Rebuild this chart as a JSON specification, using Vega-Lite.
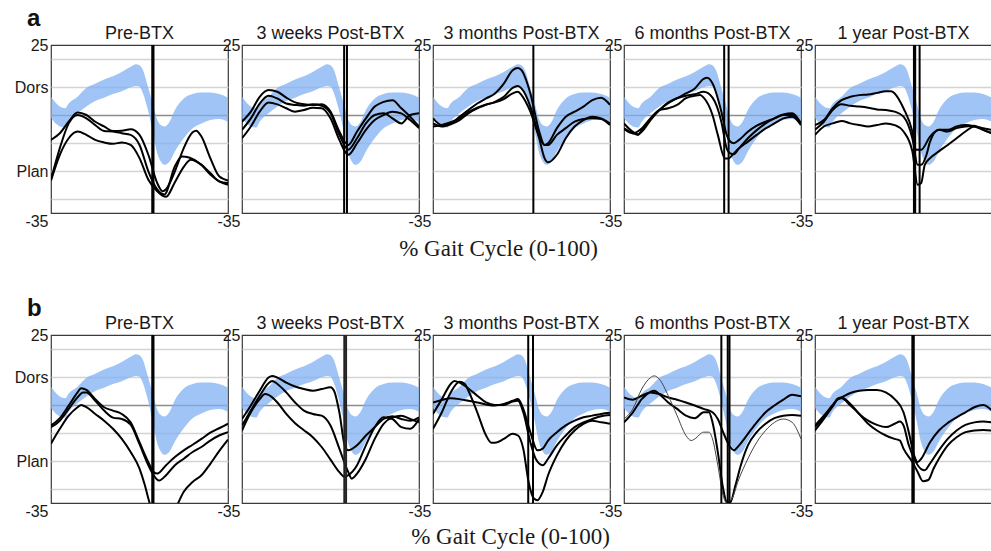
{
"$schema": "https://vega.github.io/schema/vega-lite/v6.json",
"background": "white",
"padding": {"left": 13, "top": 7, "right": 0, "bottom": 0},
"datasets": {
"norm": [
{"x":0,"lo":-1.2,"hi":6.5},{"x":5,"lo":-4.1,"hi":3},{"x":8,"lo":-4.5,"hi":2.4},{"x":10,"lo":-2.4,"hi":4.1},{"x":15,"lo":0.6,"hi":6.5},{"x":20,"lo":3,"hi":9.7},{"x":25,"lo":5,"hi":11.2},{"x":30,"lo":6.2,"hi":12.7},{"x":35,"lo":7.5,"hi":13.8},{"x":40,"lo":8.5,"hi":15.4},{"x":45,"lo":9.9,"hi":17.2},{"x":48,"lo":10.4,"hi":18.1},{"x":50,"lo":10.1,"hi":17.8},{"x":52,"lo":7.7,"hi":16},{"x":54.5,"lo":2.4,"hi":10.7},{"x":57.5,"lo":-5.9,"hi":4.1},{"x":60,"lo":-13.6,"hi":-1.6},{"x":62,"lo":-16.6,"hi":-3.6},{"x":64,"lo":-17.8,"hi":-4.1},{"x":67,"lo":-16.6,"hi":-2.4},{"x":70,"lo":-13,"hi":1.8},{"x":75,"lo":-8.3,"hi":5.9},{"x":80,"lo":-4.7,"hi":7.5},{"x":85,"lo":-3,"hi":8},{"x":90,"lo":-1.8,"hi":8},{"x":95,"lo":-1.4,"hi":7.5},{"x":100,"lo":-2.4,"hi":6.2}
],
"toe": [
{"p":"a1","x":57.2},{"p":"a1","x":57.9},
{"p":"a2","x":57.7},{"p":"a2","x":59.3},
{"p":"a3","x":56.7},
{"p":"a4","x":56.6},{"p":"a4","x":59.1},
{"p":"a5","x":55.9},{"p":"a5","x":56.6},{"p":"a5","x":59.1},
{"p":"b1","x":57.2},{"p":"b1","x":57.9},
{"p":"b2","x":57.8},{"p":"b2","x":58.8},
{"p":"b3","x":53.8},{"p":"b3","x":56.5},
{"p":"b4","x":55},{"p":"b4","x":58.6},{"p":"b4","x":59.6},
{"p":"b5","x":55},{"p":"b5","x":55.8}
],
"trials": [
{"p":"a1","t":1,"x":0,"y":-8.9},{"p":"a1","t":1,"x":5,"y":-6.5},{"p":"a1","t":1,"x":10,"y":-2.4},{"p":"a1","t":1,"x":15,"y":0.9},{"p":"a1","t":1,"x":20,"y":0},{"p":"a1","t":1,"x":25,"y":-2.4},{"p":"a1","t":1,"x":30,"y":-4.1},{"p":"a1","t":1,"x":35,"y":-5.7},{"p":"a1","t":1,"x":40,"y":-5.6},{"p":"a1","t":1,"x":45,"y":-5.1},{"p":"a1","t":1,"x":50,"y":-7.1},{"p":"a1","t":1,"x":55,"y":-14.2},{"p":"a1","t":1,"x":60,"y":-24.3},{"p":"a1","t":1,"x":63,"y":-27.2},{"p":"a1","t":1,"x":65,"y":-26.5},{"p":"a1","t":1,"x":70,"y":-20.1},{"p":"a1","t":1,"x":75,"y":-11.8},{"p":"a1","t":1,"x":80,"y":-6.2},{"p":"a1","t":1,"x":82,"y":-5.6},{"p":"a1","t":1,"x":85,"y":-7.7},{"p":"a1","t":1,"x":90,"y":-15.4},{"p":"a1","t":1,"x":95,"y":-21.9},{"p":"a1","t":1,"x":100,"y":-23.4},
{"p":"a1","t":2,"x":0,"y":-23},{"p":"a1","t":2,"x":5,"y":-11.8},{"p":"a1","t":2,"x":10,"y":-3},{"p":"a1","t":2,"x":15,"y":0},{"p":"a1","t":2,"x":20,"y":-1.2},{"p":"a1","t":2,"x":25,"y":-3.6},{"p":"a1","t":2,"x":30,"y":-5.7},{"p":"a1","t":2,"x":35,"y":-5.9},{"p":"a1","t":2,"x":40,"y":-6.5},{"p":"a1","t":2,"x":45,"y":-7.1},{"p":"a1","t":2,"x":50,"y":-10.7},{"p":"a1","t":2,"x":55,"y":-20.1},{"p":"a1","t":2,"x":60,"y":-26.6},{"p":"a1","t":2,"x":64,"y":-28.4},{"p":"a1","t":2,"x":70,"y":-18.3},{"p":"a1","t":2,"x":74,"y":-14.8},{"p":"a1","t":2,"x":78,"y":-15.2},{"p":"a1","t":2,"x":85,"y":-17.8},{"p":"a1","t":2,"x":90,"y":-21.3},{"p":"a1","t":2,"x":95,"y":-23.7},{"p":"a1","t":2,"x":100,"y":-24.9},
{"p":"a1","t":3,"x":0,"y":-23.4},{"p":"a1","t":3,"x":5,"y":-14.2},{"p":"a1","t":3,"x":10,"y":-8.3},{"p":"a1","t":3,"x":15,"y":-5.9},{"p":"a1","t":3,"x":20,"y":-7.1},{"p":"a1","t":3,"x":25,"y":-8.9},{"p":"a1","t":3,"x":30,"y":-9.8},{"p":"a1","t":3,"x":35,"y":-10.3},{"p":"a1","t":3,"x":40,"y":-9.8},{"p":"a1","t":3,"x":45,"y":-10.7},{"p":"a1","t":3,"x":50,"y":-15.4},{"p":"a1","t":3,"x":55,"y":-23.1},{"p":"a1","t":3,"x":60,"y":-27.2},{"p":"a1","t":3,"x":65,"y":-29.2},{"p":"a1","t":3,"x":70,"y":-24},{"p":"a1","t":3,"x":75,"y":-18.5},{"p":"a1","t":3,"x":79,"y":-16},{"p":"a1","t":3,"x":85,"y":-17.8},{"p":"a1","t":3,"x":90,"y":-20.7},{"p":"a1","t":3,"x":95,"y":-23.7},{"p":"a1","t":3,"x":100,"y":-24.3},

{"p":"a2","t":1,"x":0,"y":-2.4},{"p":"a2","t":1,"x":5,"y":1.2},{"p":"a2","t":1,"x":10,"y":6.5},{"p":"a2","t":1,"x":15,"y":8.9},{"p":"a2","t":1,"x":20,"y":8.3},{"p":"a2","t":1,"x":25,"y":6.2},{"p":"a2","t":1,"x":30,"y":4.5},{"p":"a2","t":1,"x":35,"y":3.8},{"p":"a2","t":1,"x":40,"y":3.6},{"p":"a2","t":1,"x":45,"y":3.8},{"p":"a2","t":1,"x":50,"y":1.2},{"p":"a2","t":1,"x":55,"y":-5.9},{"p":"a2","t":1,"x":60,"y":-10.7},{"p":"a2","t":1,"x":65,"y":-5.9},{"p":"a2","t":1,"x":70,"y":-1.2},{"p":"a2","t":1,"x":75,"y":3},{"p":"a2","t":1,"x":80,"y":4.7},{"p":"a2","t":1,"x":85,"y":5.3},{"p":"a2","t":1,"x":90,"y":2.4},{"p":"a2","t":1,"x":95,"y":-0.6},{"p":"a2","t":1,"x":100,"y":-4.1},
{"p":"a2","t":2,"x":0,"y":-5.3},{"p":"a2","t":2,"x":5,"y":-1.2},{"p":"a2","t":2,"x":10,"y":4.1},{"p":"a2","t":2,"x":15,"y":6.9},{"p":"a2","t":2,"x":20,"y":5.9},{"p":"a2","t":2,"x":25,"y":4.1},{"p":"a2","t":2,"x":30,"y":3.6},{"p":"a2","t":2,"x":35,"y":3.3},{"p":"a2","t":2,"x":40,"y":3.8},{"p":"a2","t":2,"x":45,"y":3.3},{"p":"a2","t":2,"x":50,"y":0.6},{"p":"a2","t":2,"x":55,"y":-7.1},{"p":"a2","t":2,"x":60,"y":-12.4},{"p":"a2","t":2,"x":65,"y":-8.3},{"p":"a2","t":2,"x":70,"y":-3},{"p":"a2","t":2,"x":75,"y":0},{"p":"a2","t":2,"x":80,"y":0.6},{"p":"a2","t":2,"x":85,"y":-1.2},{"p":"a2","t":2,"x":90,"y":-3},{"p":"a2","t":2,"x":95,"y":0},{"p":"a2","t":2,"x":100,"y":0.6},
{"p":"a2","t":3,"x":0,"y":-8.3},{"p":"a2","t":3,"x":5,"y":-4.1},{"p":"a2","t":3,"x":10,"y":1.2},{"p":"a2","t":3,"x":15,"y":4.5},{"p":"a2","t":3,"x":20,"y":3.8},{"p":"a2","t":3,"x":25,"y":2.4},{"p":"a2","t":3,"x":30,"y":1.2},{"p":"a2","t":3,"x":35,"y":1.8},{"p":"a2","t":3,"x":40,"y":2.6},{"p":"a2","t":3,"x":45,"y":2.4},{"p":"a2","t":3,"x":50,"y":-1.2},{"p":"a2","t":3,"x":55,"y":-8.9},{"p":"a2","t":3,"x":60,"y":-14.2},{"p":"a2","t":3,"x":65,"y":-10.1},{"p":"a2","t":3,"x":70,"y":-5.3},{"p":"a2","t":3,"x":75,"y":-1.8},{"p":"a2","t":3,"x":80,"y":0},{"p":"a2","t":3,"x":85,"y":1.2},{"p":"a2","t":3,"x":90,"y":0.6},{"p":"a2","t":3,"x":95,"y":-1.8},{"p":"a2","t":3,"x":100,"y":-4.7},

{"p":"a3","t":1,"x":0,"y":-1.2},{"p":"a3","t":1,"x":5,"y":-3.6},{"p":"a3","t":1,"x":10,"y":-3},{"p":"a3","t":1,"x":15,"y":-0.6},{"p":"a3","t":1,"x":20,"y":1.8},{"p":"a3","t":1,"x":25,"y":4.1},{"p":"a3","t":1,"x":30,"y":5.9},{"p":"a3","t":1,"x":35,"y":7.7},{"p":"a3","t":1,"x":40,"y":11.2},{"p":"a3","t":1,"x":45,"y":16},{"p":"a3","t":1,"x":48,"y":16.8},{"p":"a3","t":1,"x":50,"y":16},{"p":"a3","t":1,"x":55,"y":7.7},{"p":"a3","t":1,"x":60,"y":-5.9},{"p":"a3","t":1,"x":63,"y":-10.7},{"p":"a3","t":1,"x":65,"y":-10.1},{"p":"a3","t":1,"x":70,"y":-4.7},{"p":"a3","t":1,"x":75,"y":-0.6},{"p":"a3","t":1,"x":80,"y":1.2},{"p":"a3","t":1,"x":85,"y":3},{"p":"a3","t":1,"x":90,"y":5.3},{"p":"a3","t":1,"x":95,"y":6.2},{"p":"a3","t":1,"x":100,"y":3.6},
{"p":"a3","t":2,"x":0,"y":-3},{"p":"a3","t":2,"x":5,"y":-4.1},{"p":"a3","t":2,"x":10,"y":-3.3},{"p":"a3","t":2,"x":15,"y":-1.8},{"p":"a3","t":2,"x":20,"y":0.6},{"p":"a3","t":2,"x":25,"y":2.4},{"p":"a3","t":2,"x":30,"y":3.6},{"p":"a3","t":2,"x":35,"y":4.7},{"p":"a3","t":2,"x":40,"y":6.5},{"p":"a3","t":2,"x":45,"y":9.7},{"p":"a3","t":2,"x":48,"y":10.4},{"p":"a3","t":2,"x":50,"y":9.5},{"p":"a3","t":2,"x":55,"y":3},{"p":"a3","t":2,"x":60,"y":-8.3},{"p":"a3","t":2,"x":63,"y":-15.4},{"p":"a3","t":2,"x":65,"y":-16.9},{"p":"a3","t":2,"x":70,"y":-14.2},{"p":"a3","t":2,"x":75,"y":-8.3},{"p":"a3","t":2,"x":80,"y":-4.1},{"p":"a3","t":2,"x":85,"y":-1.8},{"p":"a3","t":2,"x":90,"y":-0.6},{"p":"a3","t":2,"x":95,"y":-1.2},{"p":"a3","t":2,"x":100,"y":-3},
{"p":"a3","t":3,"x":0,"y":-4.1},{"p":"a3","t":3,"x":5,"y":-3.6},{"p":"a3","t":3,"x":10,"y":-2.6},{"p":"a3","t":3,"x":15,"y":-1.2},{"p":"a3","t":3,"x":20,"y":1},{"p":"a3","t":3,"x":25,"y":2.6},{"p":"a3","t":3,"x":30,"y":3.8},{"p":"a3","t":3,"x":35,"y":4.5},{"p":"a3","t":3,"x":40,"y":5.7},{"p":"a3","t":3,"x":45,"y":7.7},{"p":"a3","t":3,"x":48,"y":8.3},{"p":"a3","t":3,"x":50,"y":7.1},{"p":"a3","t":3,"x":55,"y":1.2},{"p":"a3","t":3,"x":60,"y":-7.7},{"p":"a3","t":3,"x":63,"y":-10.7},{"p":"a3","t":3,"x":65,"y":-10.7},{"p":"a3","t":3,"x":70,"y":-7.1},{"p":"a3","t":3,"x":75,"y":-4.7},{"p":"a3","t":3,"x":80,"y":-2.4},{"p":"a3","t":3,"x":85,"y":-1.4},{"p":"a3","t":3,"x":90,"y":-1.2},{"p":"a3","t":3,"x":95,"y":-1.4},{"p":"a3","t":3,"x":100,"y":-3.6},

{"p":"a4","t":1,"x":0,"y":-3},{"p":"a4","t":1,"x":5,"y":-6},{"p":"a4","t":1,"x":8,"y":-6.9},{"p":"a4","t":1,"x":10,"y":-6},{"p":"a4","t":1,"x":15,"y":-1.8},{"p":"a4","t":1,"x":20,"y":1.8},{"p":"a4","t":1,"x":25,"y":4.2},{"p":"a4","t":1,"x":30,"y":6},{"p":"a4","t":1,"x":35,"y":7.7},{"p":"a4","t":1,"x":40,"y":9.5},{"p":"a4","t":1,"x":45,"y":12.9},{"p":"a4","t":1,"x":47,"y":13.3},{"p":"a4","t":1,"x":50,"y":11.3},{"p":"a4","t":1,"x":55,"y":1.2},{"p":"a4","t":1,"x":58,"y":-7.1},{"p":"a4","t":1,"x":60,"y":-9.5},{"p":"a4","t":1,"x":62,"y":-10.1},{"p":"a4","t":1,"x":65,"y":-8.9},{"p":"a4","t":1,"x":70,"y":-6},{"p":"a4","t":1,"x":75,"y":-3.8},{"p":"a4","t":1,"x":80,"y":-2.4},{"p":"a4","t":1,"x":85,"y":-1.2},{"p":"a4","t":1,"x":90,"y":0.2},{"p":"a4","t":1,"x":95,"y":0.6},{"p":"a4","t":1,"x":100,"y":-3},
{"p":"a4","t":2,"x":0,"y":-4.8},{"p":"a4","t":2,"x":5,"y":-6.5},{"p":"a4","t":2,"x":8,"y":-7.1},{"p":"a4","t":2,"x":10,"y":-5.4},{"p":"a4","t":2,"x":15,"y":-1.2},{"p":"a4","t":2,"x":20,"y":1.8},{"p":"a4","t":2,"x":25,"y":4.5},{"p":"a4","t":2,"x":30,"y":6},{"p":"a4","t":2,"x":35,"y":6.9},{"p":"a4","t":2,"x":40,"y":7.4},{"p":"a4","t":2,"x":45,"y":8.3},{"p":"a4","t":2,"x":50,"y":6.2},{"p":"a4","t":2,"x":55,"y":-2.4},{"p":"a4","t":2,"x":58,"y":-11.9},{"p":"a4","t":2,"x":60,"y":-13.7},{"p":"a4","t":2,"x":62,"y":-14},{"p":"a4","t":2,"x":65,"y":-11.9},{"p":"a4","t":2,"x":70,"y":-8.3},{"p":"a4","t":2,"x":75,"y":-5.4},{"p":"a4","t":2,"x":80,"y":-3},{"p":"a4","t":2,"x":85,"y":-1.2},{"p":"a4","t":2,"x":90,"y":0},{"p":"a4","t":2,"x":95,"y":0},{"p":"a4","t":2,"x":100,"y":-3},
{"p":"a4","t":3,"x":0,"y":-5},{"p":"a4","t":3,"x":5,"y":-6.5},{"p":"a4","t":3,"x":10,"y":-4.8},{"p":"a4","t":3,"x":15,"y":-1.2},{"p":"a4","t":3,"x":20,"y":1.8},{"p":"a4","t":3,"x":25,"y":2.4},{"p":"a4","t":3,"x":30,"y":3.6},{"p":"a4","t":3,"x":35,"y":6},{"p":"a4","t":3,"x":40,"y":6.9},{"p":"a4","t":3,"x":43,"y":7.1},{"p":"a4","t":3,"x":45,"y":6.2},{"p":"a4","t":3,"x":50,"y":0},{"p":"a4","t":3,"x":53,"y":-7.1},{"p":"a4","t":3,"x":57,"y":-15.5},{"p":"a4","t":3,"x":59,"y":-15.5},{"p":"a4","t":3,"x":62,"y":-13.7},{"p":"a4","t":3,"x":65,"y":-11.9},{"p":"a4","t":3,"x":70,"y":-9.5},{"p":"a4","t":3,"x":75,"y":-7.1},{"p":"a4","t":3,"x":80,"y":-4.8},{"p":"a4","t":3,"x":85,"y":-3},{"p":"a4","t":3,"x":90,"y":-1.2},{"p":"a4","t":3,"x":95,"y":-0.6},{"p":"a4","t":3,"x":100,"y":-3.6},

{"p":"a5","t":1,"x":0,"y":-3.6},{"p":"a5","t":1,"x":5,"y":-1.8},{"p":"a5","t":1,"x":10,"y":2.4},{"p":"a5","t":1,"x":15,"y":5.3},{"p":"a5","t":1,"x":20,"y":6.5},{"p":"a5","t":1,"x":25,"y":7.1},{"p":"a5","t":1,"x":30,"y":7.3},{"p":"a5","t":1,"x":35,"y":7.9},{"p":"a5","t":1,"x":40,"y":8.5},{"p":"a5","t":1,"x":43,"y":8.5},{"p":"a5","t":1,"x":45,"y":7.7},{"p":"a5","t":1,"x":50,"y":2.4},{"p":"a5","t":1,"x":55,"y":-5.9},{"p":"a5","t":1,"x":57,"y":-12.4},{"p":"a5","t":1,"x":60,"y":-12.4},{"p":"a5","t":1,"x":65,"y":-7.7},{"p":"a5","t":1,"x":70,"y":-5.3},{"p":"a5","t":1,"x":75,"y":-5.3},{"p":"a5","t":1,"x":80,"y":-4.1},{"p":"a5","t":1,"x":85,"y":-3.6},{"p":"a5","t":1,"x":90,"y":-4.1},{"p":"a5","t":1,"x":95,"y":-5.3},{"p":"a5","t":1,"x":100,"y":-6.5},
{"p":"a5","t":2,"x":0,"y":-5.3},{"p":"a5","t":2,"x":5,"y":-2.4},{"p":"a5","t":2,"x":10,"y":1.8},{"p":"a5","t":2,"x":15,"y":3.8},{"p":"a5","t":2,"x":20,"y":3.3},{"p":"a5","t":2,"x":25,"y":3},{"p":"a5","t":2,"x":30,"y":2.6},{"p":"a5","t":2,"x":35,"y":2},{"p":"a5","t":2,"x":40,"y":1.8},{"p":"a5","t":2,"x":45,"y":1.2},{"p":"a5","t":2,"x":50,"y":-0.6},{"p":"a5","t":2,"x":55,"y":-8.3},{"p":"a5","t":2,"x":58,"y":-17.8},{"p":"a5","t":2,"x":60,"y":-17.8},{"p":"a5","t":2,"x":63,"y":-14.2},{"p":"a5","t":2,"x":65,"y":-9.5},{"p":"a5","t":2,"x":70,"y":-5.3},{"p":"a5","t":2,"x":75,"y":-5.9},{"p":"a5","t":2,"x":80,"y":-4.7},{"p":"a5","t":2,"x":85,"y":-4.1},{"p":"a5","t":2,"x":90,"y":-3.8},{"p":"a5","t":2,"x":95,"y":-5.3},{"p":"a5","t":2,"x":100,"y":-6.5},
{"p":"a5","t":3,"x":0,"y":-7.1},{"p":"a5","t":3,"x":5,"y":-4.1},{"p":"a5","t":3,"x":10,"y":-3},{"p":"a5","t":3,"x":15,"y":-2.1},{"p":"a5","t":3,"x":20,"y":-3},{"p":"a5","t":3,"x":25,"y":-3.6},{"p":"a5","t":3,"x":30,"y":-4.1},{"p":"a5","t":3,"x":35,"y":-3.6},{"p":"a5","t":3,"x":40,"y":-3},{"p":"a5","t":3,"x":45,"y":-3.6},{"p":"a5","t":3,"x":50,"y":-5.9},{"p":"a5","t":3,"x":55,"y":-13},{"p":"a5","t":3,"x":58,"y":-24.9},{"p":"a5","t":3,"x":60,"y":-24.3},{"p":"a5","t":3,"x":62,"y":-17.8},{"p":"a5","t":3,"x":65,"y":-15.4},{"p":"a5","t":3,"x":70,"y":-13},{"p":"a5","t":3,"x":75,"y":-10.7},{"p":"a5","t":3,"x":80,"y":-8.3},{"p":"a5","t":3,"x":85,"y":-5.9},{"p":"a5","t":3,"x":90,"y":-4.1},{"p":"a5","t":3,"x":95,"y":-4.7},{"p":"a5","t":3,"x":100,"y":-5.3},

{"p":"b1","t":1,"x":0,"y":-7.3},{"p":"b1","t":1,"x":5,"y":-4.7},{"p":"b1","t":1,"x":10,"y":-0.2},{"p":"b1","t":1,"x":15,"y":4.5},{"p":"b1","t":1,"x":17,"y":6},{"p":"b1","t":1,"x":20,"y":5.4},{"p":"b1","t":1,"x":25,"y":2.1},{"p":"b1","t":1,"x":30,"y":-0.8},{"p":"b1","t":1,"x":35,"y":-2},{"p":"b1","t":1,"x":40,"y":-3.2},{"p":"b1","t":1,"x":45,"y":-6.2},{"p":"b1","t":1,"x":50,"y":-13.3},{"p":"b1","t":1,"x":55,"y":-20.4},{"p":"b1","t":1,"x":58,"y":-23.9},{"p":"b1","t":1,"x":60,"y":-24.5},{"p":"b1","t":1,"x":65,"y":-21.5},{"p":"b1","t":1,"x":70,"y":-18.6},{"p":"b1","t":1,"x":75,"y":-16.2},{"p":"b1","t":1,"x":80,"y":-14.2},{"p":"b1","t":1,"x":85,"y":-12.1},{"p":"b1","t":1,"x":90,"y":-9.9},{"p":"b1","t":1,"x":95,"y":-8.3},{"p":"b1","t":1,"x":100,"y":-6.7},
{"p":"b1","t":2,"x":0,"y":-7.9},{"p":"b1","t":2,"x":5,"y":-5.6},{"p":"b1","t":2,"x":10,"y":-1.4},{"p":"b1","t":2,"x":15,"y":2.7},{"p":"b1","t":2,"x":18,"y":4.5},{"p":"b1","t":2,"x":20,"y":4.5},{"p":"b1","t":2,"x":25,"y":1.5},{"p":"b1","t":2,"x":30,"y":-2},{"p":"b1","t":2,"x":35,"y":-4.5},{"p":"b1","t":2,"x":40,"y":-5},{"p":"b1","t":2,"x":45,"y":-7},{"p":"b1","t":2,"x":50,"y":-14},{"p":"b1","t":2,"x":55,"y":-21.5},{"p":"b1","t":2,"x":58,"y":-25.1},{"p":"b1","t":2,"x":61,"y":-27},{"p":"b1","t":2,"x":65,"y":-25.1},{"p":"b1","t":2,"x":70,"y":-21.5},{"p":"b1","t":2,"x":75,"y":-19.2},{"p":"b1","t":2,"x":80,"y":-16.8},{"p":"b1","t":2,"x":85,"y":-15},{"p":"b1","t":2,"x":90,"y":-12.7},{"p":"b1","t":2,"x":95,"y":-10.9},{"p":"b1","t":2,"x":100,"y":-9.7},
{"p":"b1","t":3,"x":0,"y":-13.8},{"p":"b1","t":3,"x":5,"y":-8.5},{"p":"b1","t":3,"x":10,"y":-3.8},{"p":"b1","t":3,"x":15,"y":-0.8},{"p":"b1","t":3,"x":17,"y":0},{"p":"b1","t":3,"x":20,"y":-0.8},{"p":"b1","t":3,"x":25,"y":-3.2},{"p":"b1","t":3,"x":30,"y":-5.6},{"p":"b1","t":3,"x":35,"y":-8.5},{"p":"b1","t":3,"x":40,"y":-12.1},{"p":"b1","t":3,"x":45,"y":-16.8},{"p":"b1","t":3,"x":50,"y":-22.7},{"p":"b1","t":3,"x":53,"y":-28.6},{"p":"b1","t":3,"x":55,"y":-33.4},{"p":"b1","t":3,"x":57,"y":-38},{"p":"b1","t":3,"x":60,"y":-42},{"p":"b1","t":3,"x":65,"y":-42},{"p":"b1","t":3,"x":70,"y":-37.5},{"p":"b1","t":3,"x":72,"y":-34.8},{"p":"b1","t":3,"x":75,"y":-31},{"p":"b1","t":3,"x":80,"y":-27.5},{"p":"b1","t":3,"x":85,"y":-25.1},{"p":"b1","t":3,"x":90,"y":-21},{"p":"b1","t":3,"x":95,"y":-16.5},{"p":"b1","t":3,"x":100,"y":-12.4},

{"p":"b2","t":1,"x":0,"y":-5},{"p":"b2","t":1,"x":5,"y":-0.2},{"p":"b2","t":1,"x":10,"y":5.1},{"p":"b2","t":1,"x":15,"y":9.8},{"p":"b2","t":1,"x":17,"y":10.4},{"p":"b2","t":1,"x":20,"y":9.8},{"p":"b2","t":1,"x":25,"y":8},{"p":"b2","t":1,"x":30,"y":6.6},{"p":"b2","t":1,"x":35,"y":5.7},{"p":"b2","t":1,"x":40,"y":5.1},{"p":"b2","t":1,"x":45,"y":5.7},{"p":"b2","t":1,"x":50,"y":6.3},{"p":"b2","t":1,"x":52,"y":5.1},{"p":"b2","t":1,"x":55,"y":-2.6},{"p":"b2","t":1,"x":58,"y":-14.4},{"p":"b2","t":1,"x":60,"y":-16.2},{"p":"b2","t":1,"x":65,"y":-14.4},{"p":"b2","t":1,"x":70,"y":-10.9},{"p":"b2","t":1,"x":75,"y":-7.9},{"p":"b2","t":1,"x":80,"y":-5},{"p":"b2","t":1,"x":85,"y":-4},{"p":"b2","t":1,"x":90,"y":-5},{"p":"b2","t":1,"x":95,"y":-5.6},{"p":"b2","t":1,"x":100,"y":-4.4},
{"p":"b2","t":2,"x":0,"y":-7.3},{"p":"b2","t":2,"x":5,"y":-2},{"p":"b2","t":2,"x":10,"y":3.3},{"p":"b2","t":2,"x":15,"y":7.8},{"p":"b2","t":2,"x":17,"y":8.6},{"p":"b2","t":2,"x":20,"y":7.5},{"p":"b2","t":2,"x":25,"y":4.5},{"p":"b2","t":2,"x":30,"y":0.9},{"p":"b2","t":2,"x":35,"y":-2},{"p":"b2","t":2,"x":40,"y":-3.2},{"p":"b2","t":2,"x":45,"y":-3.8},{"p":"b2","t":2,"x":50,"y":-7.3},{"p":"b2","t":2,"x":55,"y":-15.6},{"p":"b2","t":2,"x":60,"y":-23.9},{"p":"b2","t":2,"x":62,"y":-26.3},{"p":"b2","t":2,"x":65,"y":-24.5},{"p":"b2","t":2,"x":70,"y":-19.2},{"p":"b2","t":2,"x":75,"y":-12.1},{"p":"b2","t":2,"x":80,"y":-6.7},{"p":"b2","t":2,"x":85,"y":-4.4},{"p":"b2","t":2,"x":90,"y":-3.8},{"p":"b2","t":2,"x":95,"y":-5},{"p":"b2","t":2,"x":100,"y":-6.2},
{"p":"b2","t":3,"x":0,"y":-9.1},{"p":"b2","t":3,"x":5,"y":-2.6},{"p":"b2","t":3,"x":10,"y":2.1},{"p":"b2","t":3,"x":13,"y":3.9},{"p":"b2","t":3,"x":15,"y":3.6},{"p":"b2","t":3,"x":20,"y":0.9},{"p":"b2","t":3,"x":25,"y":-3.2},{"p":"b2","t":3,"x":30,"y":-6.5},{"p":"b2","t":3,"x":35,"y":-9},{"p":"b2","t":3,"x":40,"y":-11.5},{"p":"b2","t":3,"x":45,"y":-15},{"p":"b2","t":3,"x":50,"y":-19.5},{"p":"b2","t":3,"x":55,"y":-24},{"p":"b2","t":3,"x":58,"y":-25.7},{"p":"b2","t":3,"x":60,"y":-25.1},{"p":"b2","t":3,"x":65,"y":-21.5},{"p":"b2","t":3,"x":70,"y":-14.4},{"p":"b2","t":3,"x":75,"y":-7.9},{"p":"b2","t":3,"x":80,"y":-4.4},{"p":"b2","t":3,"x":85,"y":-5},{"p":"b2","t":3,"x":90,"y":-7.9},{"p":"b2","t":3,"x":95,"y":-8.5},{"p":"b2","t":3,"x":100,"y":-5},

{"p":"b3","t":1,"x":0,"y":0.9},{"p":"b3","t":1,"x":5,"y":1.8},{"p":"b3","t":1,"x":10,"y":2.4},{"p":"b3","t":1,"x":15,"y":2.1},{"p":"b3","t":1,"x":20,"y":1.5},{"p":"b3","t":1,"x":25,"y":0.9},{"p":"b3","t":1,"x":30,"y":0.2},{"p":"b3","t":1,"x":35,"y":-0.2},{"p":"b3","t":1,"x":40,"y":0.4},{"p":"b3","t":1,"x":45,"y":1.5},{"p":"b3","t":1,"x":48,"y":2.1},{"p":"b3","t":1,"x":51,"y":-1.4},{"p":"b3","t":1,"x":55,"y":-9.7},{"p":"b3","t":1,"x":59,"y":-16.2},{"p":"b3","t":1,"x":62,"y":-15.6},{"p":"b3","t":1,"x":65,"y":-12.7},{"p":"b3","t":1,"x":70,"y":-9.7},{"p":"b3","t":1,"x":75,"y":-7.3},{"p":"b3","t":1,"x":80,"y":-5.6},{"p":"b3","t":1,"x":85,"y":-4.4},{"p":"b3","t":1,"x":90,"y":-3.8},{"p":"b3","t":1,"x":95,"y":-3.2},{"p":"b3","t":1,"x":100,"y":-2.8},
{"p":"b3","t":2,"x":0,"y":-3.2},{"p":"b3","t":2,"x":5,"y":2.1},{"p":"b3","t":2,"x":10,"y":7.5},{"p":"b3","t":2,"x":12,"y":8.6},{"p":"b3","t":2,"x":15,"y":8},{"p":"b3","t":2,"x":20,"y":5.9},{"p":"b3","t":2,"x":25,"y":3.3},{"p":"b3","t":2,"x":30,"y":0.9},{"p":"b3","t":2,"x":35,"y":0},{"p":"b3","t":2,"x":40,"y":0},{"p":"b3","t":2,"x":45,"y":1.2},{"p":"b3","t":2,"x":48,"y":1.5},{"p":"b3","t":2,"x":51,"y":-2.6},{"p":"b3","t":2,"x":55,"y":-13.3},{"p":"b3","t":2,"x":58,"y":-19.2},{"p":"b3","t":2,"x":62,"y":-21.5},{"p":"b3","t":2,"x":65,"y":-19.2},{"p":"b3","t":2,"x":70,"y":-14.4},{"p":"b3","t":2,"x":75,"y":-10.9},{"p":"b3","t":2,"x":80,"y":-7.9},{"p":"b3","t":2,"x":85,"y":-6.2},{"p":"b3","t":2,"x":90,"y":-5},{"p":"b3","t":2,"x":95,"y":-4},{"p":"b3","t":2,"x":100,"y":-3.6},
{"p":"b3","t":3,"x":0,"y":-8.5},{"p":"b3","t":3,"x":5,"y":-2.6},{"p":"b3","t":3,"x":10,"y":4.5},{"p":"b3","t":3,"x":15,"y":8.3},{"p":"b3","t":3,"x":18,"y":7.5},{"p":"b3","t":3,"x":20,"y":5.1},{"p":"b3","t":3,"x":25,"y":-2.6},{"p":"b3","t":3,"x":30,"y":-10.9},{"p":"b3","t":3,"x":33,"y":-13.5},{"p":"b3","t":3,"x":35,"y":-13.5},{"p":"b3","t":3,"x":40,"y":-12.1},{"p":"b3","t":3,"x":45,"y":-10.3},{"p":"b3","t":3,"x":48,"y":-10.9},{"p":"b3","t":3,"x":51,"y":-15.6},{"p":"b3","t":3,"x":54,"y":-27.5},{"p":"b3","t":3,"x":57,"y":-33.4},{"p":"b3","t":3,"x":59,"y":-34},{"p":"b3","t":3,"x":62,"y":-31},{"p":"b3","t":3,"x":65,"y":-25.1},{"p":"b3","t":3,"x":70,"y":-18},{"p":"b3","t":3,"x":75,"y":-12.7},{"p":"b3","t":3,"x":80,"y":-9.1},{"p":"b3","t":3,"x":85,"y":-6.7},{"p":"b3","t":3,"x":90,"y":-5.6},{"p":"b3","t":3,"x":95,"y":-6.2},{"p":"b3","t":3,"x":100,"y":-6.7},

{"p":"b4","t":1,"x":0,"y":2.7},{"p":"b4","t":1,"x":5,"y":1.9},{"p":"b4","t":1,"x":10,"y":3.3},{"p":"b4","t":1,"x":15,"y":4.5},{"p":"b4","t":1,"x":20,"y":3.9},{"p":"b4","t":1,"x":25,"y":2.7},{"p":"b4","t":1,"x":30,"y":1.9},{"p":"b4","t":1,"x":35,"y":0.9},{"p":"b4","t":1,"x":40,"y":-0.2},{"p":"b4","t":1,"x":45,"y":-1.4},{"p":"b4","t":1,"x":50,"y":-2.6},{"p":"b4","t":1,"x":53,"y":-5},{"p":"b4","t":1,"x":56,"y":-9.7},{"p":"b4","t":1,"x":60,"y":-15},{"p":"b4","t":1,"x":62,"y":-16.2},{"p":"b4","t":1,"x":65,"y":-14.4},{"p":"b4","t":1,"x":70,"y":-10.3},{"p":"b4","t":1,"x":75,"y":-6.2},{"p":"b4","t":1,"x":80,"y":-2.6},{"p":"b4","t":1,"x":85,"y":-0.2},{"p":"b4","t":1,"x":90,"y":1.9},{"p":"b4","t":1,"x":95,"y":3.7},{"p":"b4","t":1,"x":100,"y":3.1},
{"p":"b4","t":2,"x":0,"y":-6.2},{"p":"b4","t":2,"x":5,"y":-2.6},{"p":"b4","t":2,"x":10,"y":2.1},{"p":"b4","t":2,"x":15,"y":4.7},{"p":"b4","t":2,"x":17,"y":5.1},{"p":"b4","t":2,"x":20,"y":3.9},{"p":"b4","t":2,"x":25,"y":0.9},{"p":"b4","t":2,"x":30,"y":-1.4},{"p":"b4","t":2,"x":35,"y":-3.8},{"p":"b4","t":2,"x":40,"y":-4.7},{"p":"b4","t":2,"x":45,"y":-2.6},{"p":"b4","t":2,"x":48,"y":-2.6},{"p":"b4","t":2,"x":50,"y":-6.2},{"p":"b4","t":2,"x":53,"y":-16.8},{"p":"b4","t":2,"x":56,"y":-29.8},{"p":"b4","t":2,"x":58,"y":-34.6},{"p":"b4","t":2,"x":60,"y":-34.8},{"p":"b4","t":2,"x":63,"y":-28.6},{"p":"b4","t":2,"x":66,"y":-21.5},{"p":"b4","t":2,"x":70,"y":-14.4},{"p":"b4","t":2,"x":75,"y":-9.7},{"p":"b4","t":2,"x":80,"y":-6.7},{"p":"b4","t":2,"x":85,"y":-4.7},{"p":"b4","t":2,"x":90,"y":-3.8},{"p":"b4","t":2,"x":95,"y":-3.6},{"p":"b4","t":2,"x":100,"y":-3.8},
{"p":"b4","t":3,"x":0,"y":-5},{"p":"b4","t":3,"x":5,"y":-1.4},{"p":"b4","t":3,"x":10,"y":5.7},{"p":"b4","t":3,"x":15,"y":9.8},{"p":"b4","t":3,"x":17,"y":10.4},{"p":"b4","t":3,"x":20,"y":9.2},{"p":"b4","t":3,"x":25,"y":3.3},{"p":"b4","t":3,"x":30,"y":-3.8},{"p":"b4","t":3,"x":35,"y":-10.9},{"p":"b4","t":3,"x":38,"y":-12.7},{"p":"b4","t":3,"x":40,"y":-12.1},{"p":"b4","t":3,"x":45,"y":-9.7},{"p":"b4","t":3,"x":48,"y":-9.7},{"p":"b4","t":3,"x":50,"y":-12.1},{"p":"b4","t":3,"x":53,"y":-21.5},{"p":"b4","t":3,"x":56,"y":-32.2},{"p":"b4","t":3,"x":58,"y":-35},{"p":"b4","t":3,"x":61,"y":-33.4},{"p":"b4","t":3,"x":65,"y":-26.3},{"p":"b4","t":3,"x":70,"y":-19.2},{"p":"b4","t":3,"x":75,"y":-13.3},{"p":"b4","t":3,"x":80,"y":-9.1},{"p":"b4","t":3,"x":85,"y":-6.2},{"p":"b4","t":3,"x":90,"y":-5},{"p":"b4","t":3,"x":95,"y":-6.2},{"p":"b4","t":3,"x":100,"y":-12.1},

{"p":"b5","t":1,"x":0,"y":-7.3},{"p":"b5","t":1,"x":5,"y":-3.8},{"p":"b5","t":1,"x":10,"y":0},{"p":"b5","t":1,"x":13,"y":2.1},{"p":"b5","t":1,"x":15,"y":2.7},{"p":"b5","t":1,"x":20,"y":4.3},{"p":"b5","t":1,"x":25,"y":5.1},{"p":"b5","t":1,"x":30,"y":5.4},{"p":"b5","t":1,"x":35,"y":5.4},{"p":"b5","t":1,"x":40,"y":4.5},{"p":"b5","t":1,"x":45,"y":2.1},{"p":"b5","t":1,"x":50,"y":-2.6},{"p":"b5","t":1,"x":53,"y":-9.7},{"p":"b5","t":1,"x":56,"y":-18},{"p":"b5","t":1,"x":58,"y":-20.4},{"p":"b5","t":1,"x":60,"y":-19.2},{"p":"b5","t":1,"x":65,"y":-13.3},{"p":"b5","t":1,"x":70,"y":-9.1},{"p":"b5","t":1,"x":75,"y":-6.4},{"p":"b5","t":1,"x":80,"y":-4.4},{"p":"b5","t":1,"x":85,"y":-2.6},{"p":"b5","t":1,"x":90,"y":-0.8},{"p":"b5","t":1,"x":95,"y":0},{"p":"b5","t":1,"x":100,"y":-2},
{"p":"b5","t":2,"x":0,"y":-7.9},{"p":"b5","t":2,"x":5,"y":-4.4},{"p":"b5","t":2,"x":10,"y":-0.2},{"p":"b5","t":2,"x":13,"y":2.4},{"p":"b5","t":2,"x":15,"y":2.7},{"p":"b5","t":2,"x":20,"y":0.4},{"p":"b5","t":2,"x":25,"y":-3.2},{"p":"b5","t":2,"x":30,"y":-5.6},{"p":"b5","t":2,"x":35,"y":-7.1},{"p":"b5","t":2,"x":40,"y":-7.9},{"p":"b5","t":2,"x":45,"y":-6.7},{"p":"b5","t":2,"x":48,"y":-5.9},{"p":"b5","t":2,"x":50,"y":-7.3},{"p":"b5","t":2,"x":53,"y":-14.4},{"p":"b5","t":2,"x":57,"y":-20.4},{"p":"b5","t":2,"x":60,"y":-22.9},{"p":"b5","t":2,"x":62,"y":-23.3},{"p":"b5","t":2,"x":65,"y":-20.9},{"p":"b5","t":2,"x":70,"y":-16.2},{"p":"b5","t":2,"x":75,"y":-12.1},{"p":"b5","t":2,"x":80,"y":-9.1},{"p":"b5","t":2,"x":85,"y":-7.1},{"p":"b5","t":2,"x":90,"y":-6.2},{"p":"b5","t":2,"x":95,"y":-5.9},{"p":"b5","t":2,"x":100,"y":-6.2},
{"p":"b5","t":3,"x":0,"y":-9.1},{"p":"b5","t":3,"x":5,"y":-5},{"p":"b5","t":3,"x":10,"y":-0.5},{"p":"b5","t":3,"x":13,"y":2.1},{"p":"b5","t":3,"x":15,"y":2.4},{"p":"b5","t":3,"x":20,"y":-0.2},{"p":"b5","t":3,"x":25,"y":-3.2},{"p":"b5","t":3,"x":30,"y":-6.7},{"p":"b5","t":3,"x":35,"y":-9.1},{"p":"b5","t":3,"x":40,"y":-10.9},{"p":"b5","t":3,"x":45,"y":-12.1},{"p":"b5","t":3,"x":48,"y":-12.7},{"p":"b5","t":3,"x":50,"y":-15.6},{"p":"b5","t":3,"x":55,"y":-20.4},{"p":"b5","t":3,"x":58,"y":-23.9},{"p":"b5","t":3,"x":61,"y":-27.2},{"p":"b5","t":3,"x":64,"y":-26.8},{"p":"b5","t":3,"x":67,"y":-22.7},{"p":"b5","t":3,"x":70,"y":-19.2},{"p":"b5","t":3,"x":75,"y":-14.4},{"p":"b5","t":3,"x":80,"y":-11.5},{"p":"b5","t":3,"x":85,"y":-9.7},{"p":"b5","t":3,"x":90,"y":-9.1},{"p":"b5","t":3,"x":95,"y":-8.9},{"p":"b5","t":3,"x":100,"y":-9.1}
]
},
"spacing": 290,
"bounds": "flush",
"vconcat": [
{"title": {"text": "a", "anchor": "start", "frame": "group", "dx": -24, "fontSize": 24, "fontWeight": "bold", "color": "#111", "offset": -7},
"spacing": 14, "bounds": "flush",
"hconcat": [
{"width":177,"height":168,"title":"Pre-BTX","encoding":{"x":{"field":"x","type":"quantitative","scale":{"domain":[0,100],"nice":false,"zero":false},"axis":null}},"layer":[
{"data":{"name":"norm"},"mark":{"type":"area","color":"#7fb0f2","opacity":0.75,"interpolate":"monotone"},"encoding":{"y":{"field":"hi","type":"quantitative","scale":{"domain":[-35,25],"nice":false,"zero":false},"title":null,"axis":{"values":[-35,-30,-20,-10,0,10,20,25],"tickCount":20,"labelOverlap":false,"labelExpr":"datum.value==25?'25':datum.value==-35?'-35':datum.value==10?'Dors':datum.value==-20?'Plan':''","labelBaseline":{"condition":{"test":"datum.value==-35","value":"top"},"value":"middle"},"labelPadding":3,"gridColor":{"condition":{"test":"datum.value==0","value":"#8c8c8c"},"value":"#d4d4d4"},"gridOpacity":{"condition":{"test":"datum.value==25||datum.value==-35","value":0},"value":1},"gridWidth":1.5}},"y2":{"field":"lo"}}},
{"data":{"name":"trials"},"transform":[{"filter":"datum.p==='a1'"}],"mark":{"type":"line","color":"#000","strokeWidth":2,"interpolate":"monotone","clip":true},"encoding":{"y":{"field":"y","type":"quantitative","title":null,"scale":{"domain":[-35,25],"nice":false,"zero":false}},"detail":{"field":"t","type":"nominal"}}},
{"data":{"name":"toe"},"transform":[{"filter":"datum.p==='a1'"}],"mark":{"type":"rule","color":"#000","strokeWidth":2},"encoding":{}}
]},
{"width":177,"height":168,"title":"3 weeks Post-BTX","encoding":{"x":{"field":"x","type":"quantitative","scale":{"domain":[0,100],"nice":false,"zero":false},"axis":null}},"layer":[
{"data":{"name":"norm"},"mark":{"type":"area","color":"#7fb0f2","opacity":0.75,"interpolate":"monotone"},"encoding":{"y":{"field":"hi","type":"quantitative","scale":{"domain":[-35,25],"nice":false,"zero":false},"title":null,"axis":{"values":[-35,-30,-20,-10,0,10,20,25],"tickCount":20,"labelOverlap":false,"labelExpr":"datum.value==25?'25':datum.value==-35?'-35':''","labelBaseline":{"condition":{"test":"datum.value==-35","value":"top"},"value":"middle"},"labelPadding":2,"gridColor":{"condition":{"test":"datum.value==0","value":"#8c8c8c"},"value":"#d4d4d4"},"gridOpacity":{"condition":{"test":"datum.value==25||datum.value==-35","value":0},"value":1},"gridWidth":1.5}},"y2":{"field":"lo"}}},
{"data":{"name":"trials"},"transform":[{"filter":"datum.p==='a2'"}],"mark":{"type":"line","color":"#000","strokeWidth":2,"interpolate":"monotone","clip":true},"encoding":{"y":{"field":"y","type":"quantitative","title":null,"scale":{"domain":[-35,25],"nice":false,"zero":false}},"detail":{"field":"t","type":"nominal"}}},
{"data":{"name":"toe"},"transform":[{"filter":"datum.p==='a2'"}],"mark":{"type":"rule","color":"#000","strokeWidth":2},"encoding":{}}
]},
{"width":177,"height":168,"title":"3 months Post-BTX","encoding":{"x":{"field":"x","type":"quantitative","scale":{"domain":[0,100],"nice":false,"zero":false},"axis":{"title":"% Gait Cycle (0-100)","labels":false,"ticks":false,"domain":false,"grid":false,"titleFont":"Liberation Serif","titleFontSize":23,"titleFontWeight":"normal","titleColor":"#1a1a1a","titleX":65,"titleY":42,"titleAlign":"center","titleBaseline":"alphabetic"}}},"layer":[
{"data":{"name":"norm"},"mark":{"type":"area","color":"#7fb0f2","opacity":0.75,"interpolate":"monotone"},"encoding":{"y":{"field":"hi","type":"quantitative","scale":{"domain":[-35,25],"nice":false,"zero":false},"title":null,"axis":{"values":[-35,-30,-20,-10,0,10,20,25],"tickCount":20,"labelOverlap":false,"labelExpr":"datum.value==25?'25':datum.value==-35?'-35':''","labelBaseline":{"condition":{"test":"datum.value==-35","value":"top"},"value":"middle"},"labelPadding":2,"gridColor":{"condition":{"test":"datum.value==0","value":"#8c8c8c"},"value":"#d4d4d4"},"gridOpacity":{"condition":{"test":"datum.value==25||datum.value==-35","value":0},"value":1},"gridWidth":1.5}},"y2":{"field":"lo"}}},
{"data":{"name":"trials"},"transform":[{"filter":"datum.p==='a3'"}],"mark":{"type":"line","color":"#000","strokeWidth":2,"interpolate":"monotone","clip":true},"encoding":{"y":{"field":"y","type":"quantitative","title":null,"scale":{"domain":[-35,25],"nice":false,"zero":false}},"detail":{"field":"t","type":"nominal"}}},
{"data":{"name":"toe"},"transform":[{"filter":"datum.p==='a3'"}],"mark":{"type":"rule","color":"#000","strokeWidth":2},"encoding":{}}
]},
{"width":177,"height":168,"title":"6 months Post-BTX","encoding":{"x":{"field":"x","type":"quantitative","scale":{"domain":[0,100],"nice":false,"zero":false},"axis":null}},"layer":[
{"data":{"name":"norm"},"mark":{"type":"area","color":"#7fb0f2","opacity":0.75,"interpolate":"monotone"},"encoding":{"y":{"field":"hi","type":"quantitative","scale":{"domain":[-35,25],"nice":false,"zero":false},"title":null,"axis":{"values":[-35,-30,-20,-10,0,10,20,25],"tickCount":20,"labelOverlap":false,"labelExpr":"datum.value==25?'25':datum.value==-35?'-35':''","labelBaseline":{"condition":{"test":"datum.value==-35","value":"top"},"value":"middle"},"labelPadding":2,"gridColor":{"condition":{"test":"datum.value==0","value":"#8c8c8c"},"value":"#d4d4d4"},"gridOpacity":{"condition":{"test":"datum.value==25||datum.value==-35","value":0},"value":1},"gridWidth":1.5}},"y2":{"field":"lo"}}},
{"data":{"name":"trials"},"transform":[{"filter":"datum.p==='a4'"}],"mark":{"type":"line","color":"#000","strokeWidth":2,"interpolate":"monotone","clip":true},"encoding":{"y":{"field":"y","type":"quantitative","title":null,"scale":{"domain":[-35,25],"nice":false,"zero":false}},"detail":{"field":"t","type":"nominal"}}},
{"data":{"name":"toe"},"transform":[{"filter":"datum.p==='a4'"}],"mark":{"type":"rule","color":"#000","strokeWidth":2},"encoding":{}}
]},
{"width":177,"height":168,"title":"1 year Post-BTX","encoding":{"x":{"field":"x","type":"quantitative","scale":{"domain":[0,100],"nice":false,"zero":false},"axis":null}},"layer":[
{"data":{"name":"norm"},"mark":{"type":"area","color":"#7fb0f2","opacity":0.75,"interpolate":"monotone"},"encoding":{"y":{"field":"hi","type":"quantitative","scale":{"domain":[-35,25],"nice":false,"zero":false},"title":null,"axis":{"values":[-35,-30,-20,-10,0,10,20,25],"tickCount":20,"labelOverlap":false,"labelExpr":"datum.value==25?'25':datum.value==-35?'-35':''","labelBaseline":{"condition":{"test":"datum.value==-35","value":"top"},"value":"middle"},"labelPadding":2,"gridColor":{"condition":{"test":"datum.value==0","value":"#8c8c8c"},"value":"#d4d4d4"},"gridOpacity":{"condition":{"test":"datum.value==25||datum.value==-35","value":0},"value":1},"gridWidth":1.5}},"y2":{"field":"lo"}}},
{"data":{"name":"trials"},"transform":[{"filter":"datum.p==='a5'"}],"mark":{"type":"line","color":"#000","strokeWidth":2,"interpolate":"monotone","clip":true},"encoding":{"y":{"field":"y","type":"quantitative","title":null,"scale":{"domain":[-35,25],"nice":false,"zero":false}},"detail":{"field":"t","type":"nominal"}}},
{"data":{"name":"toe"},"transform":[{"filter":"datum.p==='a5'"}],"mark":{"type":"rule","color":"#000","strokeWidth":2},"encoding":{}}
]}
]},
{"title": {"text": "b", "anchor": "start", "frame": "group", "dx": -24, "fontSize": 24, "fontWeight": "bold", "color": "#111", "offset": -7},
"spacing": 14, "bounds": "flush",
"hconcat": [
{"width":177,"height":168,"title":"Pre-BTX","encoding":{"x":{"field":"x","type":"quantitative","scale":{"domain":[0,100],"nice":false,"zero":false},"axis":null}},"layer":[
{"data":{"name":"norm"},"mark":{"type":"area","color":"#7fb0f2","opacity":0.75,"interpolate":"monotone"},"encoding":{"y":{"field":"hi","type":"quantitative","scale":{"domain":[-35,25],"nice":false,"zero":false},"title":null,"axis":{"values":[-35,-30,-20,-10,0,10,20,25],"tickCount":20,"labelOverlap":false,"labelExpr":"datum.value==25?'25':datum.value==-35?'-35':datum.value==10?'Dors':datum.value==-20?'Plan':''","labelBaseline":{"condition":{"test":"datum.value==-35","value":"top"},"value":"middle"},"labelPadding":3,"gridColor":{"condition":{"test":"datum.value==0","value":"#8c8c8c"},"value":"#d4d4d4"},"gridOpacity":{"condition":{"test":"datum.value==25||datum.value==-35","value":0},"value":1},"gridWidth":1.5}},"y2":{"field":"lo"}}},
{"data":{"name":"trials"},"transform":[{"filter":"datum.p==='b1'"}],"mark":{"type":"line","color":"#000","strokeWidth":2,"interpolate":"monotone","clip":true},"encoding":{"y":{"field":"y","type":"quantitative","title":null,"scale":{"domain":[-35,25],"nice":false,"zero":false}},"detail":{"field":"t","type":"nominal"}}},
{"data":{"name":"toe"},"transform":[{"filter":"datum.p==='b1'"}],"mark":{"type":"rule","color":"#000","strokeWidth":2},"encoding":{}}
]},
{"width":177,"height":168,"title":"3 weeks Post-BTX","encoding":{"x":{"field":"x","type":"quantitative","scale":{"domain":[0,100],"nice":false,"zero":false},"axis":null}},"layer":[
{"data":{"name":"norm"},"mark":{"type":"area","color":"#7fb0f2","opacity":0.75,"interpolate":"monotone"},"encoding":{"y":{"field":"hi","type":"quantitative","scale":{"domain":[-35,25],"nice":false,"zero":false},"title":null,"axis":{"values":[-35,-30,-20,-10,0,10,20,25],"tickCount":20,"labelOverlap":false,"labelExpr":"datum.value==25?'25':datum.value==-35?'-35':''","labelBaseline":{"condition":{"test":"datum.value==-35","value":"top"},"value":"middle"},"labelPadding":2,"gridColor":{"condition":{"test":"datum.value==0","value":"#8c8c8c"},"value":"#d4d4d4"},"gridOpacity":{"condition":{"test":"datum.value==25||datum.value==-35","value":0},"value":1},"gridWidth":1.5}},"y2":{"field":"lo"}}},
{"data":{"name":"trials"},"transform":[{"filter":"datum.p==='b2'"}],"mark":{"type":"line","color":"#000","strokeWidth":2,"interpolate":"monotone","clip":true},"encoding":{"y":{"field":"y","type":"quantitative","title":null,"scale":{"domain":[-35,25],"nice":false,"zero":false}},"detail":{"field":"t","type":"nominal"}}},
{"data":{"name":"toe"},"transform":[{"filter":"datum.p==='b2'"}],"mark":{"type":"rule","color":"#222","strokeWidth":2},"encoding":{}}
]},
{"width":177,"height":168,"title":"3 months Post-BTX","encoding":{"x":{"field":"x","type":"quantitative","scale":{"domain":[0,100],"nice":false,"zero":false},"axis":{"title":"% Gait Cycle (0-100)","labels":false,"ticks":false,"domain":false,"grid":false,"titleFont":"Liberation Serif","titleFontSize":23,"titleFontWeight":"normal","titleColor":"#1a1a1a","titleX":77,"titleY":40,"titleAlign":"center","titleBaseline":"alphabetic"}}},"layer":[
{"data":{"name":"norm"},"mark":{"type":"area","color":"#7fb0f2","opacity":0.75,"interpolate":"monotone"},"encoding":{"y":{"field":"hi","type":"quantitative","scale":{"domain":[-35,25],"nice":false,"zero":false},"title":null,"axis":{"values":[-35,-30,-20,-10,0,10,20,25],"tickCount":20,"labelOverlap":false,"labelExpr":"datum.value==25?'25':datum.value==-35?'-35':''","labelBaseline":{"condition":{"test":"datum.value==-35","value":"top"},"value":"middle"},"labelPadding":2,"gridColor":{"condition":{"test":"datum.value==0","value":"#8c8c8c"},"value":"#d4d4d4"},"gridOpacity":{"condition":{"test":"datum.value==25||datum.value==-35","value":0},"value":1},"gridWidth":1.5}},"y2":{"field":"lo"}}},
{"data":{"name":"trials"},"transform":[{"filter":"datum.p==='b3'"}],"mark":{"type":"line","color":"#000","strokeWidth":2,"interpolate":"monotone","clip":true},"encoding":{"y":{"field":"y","type":"quantitative","title":null,"scale":{"domain":[-35,25],"nice":false,"zero":false}},"detail":{"field":"t","type":"nominal"}}},
{"data":{"name":"toe"},"transform":[{"filter":"datum.p==='b3'"}],"mark":{"type":"rule","color":"#000","strokeWidth":2},"encoding":{}}
]},
{"width":177,"height":168,"title":"6 months Post-BTX","encoding":{"x":{"field":"x","type":"quantitative","scale":{"domain":[0,100],"nice":false,"zero":false},"axis":null}},"layer":[
{"data":{"name":"norm"},"mark":{"type":"area","color":"#7fb0f2","opacity":0.75,"interpolate":"monotone"},"encoding":{"y":{"field":"hi","type":"quantitative","scale":{"domain":[-35,25],"nice":false,"zero":false},"title":null,"axis":{"values":[-35,-30,-20,-10,0,10,20,25],"tickCount":20,"labelOverlap":false,"labelExpr":"datum.value==25?'25':datum.value==-35?'-35':''","labelBaseline":{"condition":{"test":"datum.value==-35","value":"top"},"value":"middle"},"labelPadding":2,"gridColor":{"condition":{"test":"datum.value==0","value":"#8c8c8c"},"value":"#d4d4d4"},"gridOpacity":{"condition":{"test":"datum.value==25||datum.value==-35","value":0},"value":1},"gridWidth":1.5}},"y2":{"field":"lo"}}},
{"data":{"name":"trials"},"transform":[{"filter":"datum.p==='b4' && datum.t!==3"}],"mark":{"type":"line","color":"#000","strokeWidth":2,"interpolate":"monotone","clip":true},"encoding":{"y":{"field":"y","type":"quantitative","title":null,"scale":{"domain":[-35,25],"nice":false,"zero":false}},"detail":{"field":"t","type":"nominal"}}},
{"data":{"name":"trials"},"transform":[{"filter":"datum.p==='b4' && datum.t===3"}],"mark":{"type":"line","color":"#444","strokeWidth":1,"interpolate":"monotone","clip":true},"encoding":{"y":{"field":"y","type":"quantitative","title":null,"scale":{"domain":[-35,25],"nice":false,"zero":false}},"detail":{"field":"t","type":"nominal"}}},
{"data":{"name":"toe"},"transform":[{"filter":"datum.p==='b4'"}],"mark":{"type":"rule","color":"#000","strokeWidth":2},"encoding":{}}
]},
{"width":177,"height":168,"title":"1 year Post-BTX","encoding":{"x":{"field":"x","type":"quantitative","scale":{"domain":[0,100],"nice":false,"zero":false},"axis":null}},"layer":[
{"data":{"name":"norm"},"mark":{"type":"area","color":"#7fb0f2","opacity":0.75,"interpolate":"monotone"},"encoding":{"y":{"field":"hi","type":"quantitative","scale":{"domain":[-35,25],"nice":false,"zero":false},"title":null,"axis":{"values":[-35,-30,-20,-10,0,10,20,25],"tickCount":20,"labelOverlap":false,"labelExpr":"datum.value==25?'25':datum.value==-35?'-35':''","labelBaseline":{"condition":{"test":"datum.value==-35","value":"top"},"value":"middle"},"labelPadding":2,"gridColor":{"condition":{"test":"datum.value==0","value":"#8c8c8c"},"value":"#d4d4d4"},"gridOpacity":{"condition":{"test":"datum.value==25||datum.value==-35","value":0},"value":1},"gridWidth":1.5}},"y2":{"field":"lo"}}},
{"data":{"name":"trials"},"transform":[{"filter":"datum.p==='b5'"}],"mark":{"type":"line","color":"#000","strokeWidth":2,"interpolate":"monotone","clip":true},"encoding":{"y":{"field":"y","type":"quantitative","title":null,"scale":{"domain":[-35,25],"nice":false,"zero":false}},"detail":{"field":"t","type":"nominal"}}},
{"data":{"name":"toe"},"transform":[{"filter":"datum.p==='b5'"}],"mark":{"type":"rule","color":"#000","strokeWidth":2},"encoding":{}}
]}
]}
],
"config": {
"font": "Liberation Sans",
"view": {"stroke": "#3a3a3a", "strokeWidth": 1.2},
"title": {"font": "Liberation Sans", "fontSize": 18, "fontWeight": "normal", "color": "#1a1a1a", "offset": -6, "baseline": "alphabetic", "frame": "group"},
"axis": {"labelFont": "Liberation Sans", "labelFontSize": 16, "labelColor": "#1a1a1a", "ticks": false, "domain": false, "labelOverlap": false, "grid": true}
}
}
